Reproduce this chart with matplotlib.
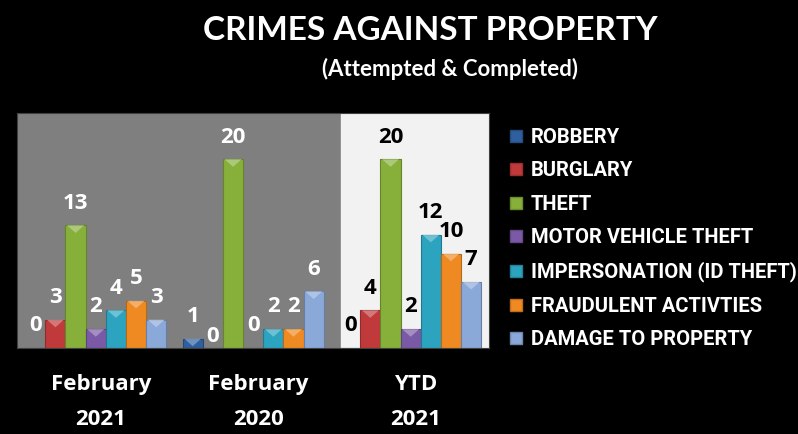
#/usr/bin/env python3

import numpy as np
import matplotlib.pyplot as plt
from matplotlib.patches import Polygon
from matplotlib.lines import Line2D
from matplotlib.transforms import ScaledTranslation
import matplotlib.colors as mcolors

# data
periods = ["February\n2021", "February\n2020", "YTD\n2021"]
crimes = ["ROBBERY", "BURGLARY", "THEFT", "MOTOR VEHICLE THEFT",
          "IMPERSONATION (ID THEFT)", "FRAUDULENT ACTIVTIES", "DAMAGE TO PROPERTY"]
robbery = [0, 1, 0]
burglary = [3, 0, 4]
theft = [13, 20, 20]
motor_vehicle = [2, 0, 2]
impersonation = [4, 2, 12]
fraudulent = [5, 2, 10]
damage = [3, 6, 7]
series = [robbery, burglary, theft, motor_vehicle, impersonation, fraudulent, damage]

colors = ['#2f5f9e', '#c0393b', '#86b03a', '#7a5aa6', '#2ca3bf', '#ef8a22', '#8aa8d8']

narrow = ['Roboto', 'DejaVu Sans']
wide = ['Open Sans', 'DejaVu Sans']
titlefont = ['Lato', 'Open Sans', 'DejaVu Sans']

fig = plt.figure(figsize=(7.98, 4.34), dpi=100, facecolor='black')
ax = fig.add_axes([0.0213, 0.198, 0.592, 0.5416])

x = np.arange(len(periods))
w = 0.128
# background panels: monthly vs year to date
ax.axvspan(-0.5, 1.56, color='#7f7f7f', zorder=0)
ax.axvspan(1.56, 2.5, color='#f2f2f2', zorder=0)

for i, (vals, c) in enumerate(zip(series, colors)):
    pos = x + (i - 3) * w
    rgb = np.array(mcolors.to_rgb(c))
    bars = ax.bar(pos, vals, width=w, color=c, edgecolor=mcolors.to_hex(rgb * 0.75),
                  linewidth=0.8, zorder=2)
    # bevel highlight on top of each bar
    light = np.clip(rgb * 0.6 + 0.4, 0, 1)
    for b in bars:
        h = b.get_height()
        if h <= 0:
            continue
        x0, bw = b.get_x(), b.get_width()
        tri = Polygon([(x0 + 0.01, h), (x0 + bw - 0.01, h), (x0 + bw / 2, h - min(0.8, h))],
                      closed=True, color=light, alpha=0.8, zorder=3, lw=0)
        ax.add_patch(tri)
    for j, (p, v) in enumerate(zip(pos, vals)):
        dy = 16
        if (i, j) == (1, 1):
            dy = 8
        ax.annotate(str(v), (p, v), xytext=(0, dy), textcoords='offset points',
                    ha='center', va='center', fontsize=16, fontweight='bold',
                    family=wide, color='black' if j == 2 else 'white', zorder=4)

ax.set_xlim(-0.5, 2.5)
ax.set_ylim(0, 24.9)
ax.set_yticks([])
ax.set_xticks(x)
ax.set_xticklabels(periods, color='white', fontsize=16, fontweight='bold',
                   family=wide, linespacing=1.85)
ax.tick_params(axis='x', length=0, pad=19)
shift = ScaledTranslation(5 / 100, 0, fig.dpi_scale_trans)
for lab in ax.get_xticklabels():
    lab.set_transform(lab.get_transform() + shift)
for s in ax.spines.values():
    s.set_color('#404040')
    s.set_linewidth(0.8)

fig.text(0.539, 0.93, "CRIMES AGAINST PROPERTY", color='white', fontsize=24,
         fontweight='bold', family=titlefont, ha='center', va='center')
fig.text(0.564, 0.841, "(Attempted & Completed)", color='white', fontsize=16,
         fontweight='bold', family=titlefont, ha='center', va='center')

handles = [Line2D([], [], marker='s', linestyle='none', markersize=8,
                  markerfacecolor=c, markeredgecolor=mcolors.to_hex(np.array(mcolors.to_rgb(c)) * 0.8))
           for c in colors]
leg = fig.legend(handles, crimes, loc='upper left', bbox_to_anchor=(0.627, 0.729),
                 frameon=False, handlelength=0.6, handletextpad=0.4,
                 labelspacing=0.72, borderpad=0,
                 prop={'family': narrow, 'weight': 'bold', 'size': 14.5})
for t in leg.get_texts():
    t.set_color('white')

plt.savefig('out.png', dpi=100, facecolor='black')
